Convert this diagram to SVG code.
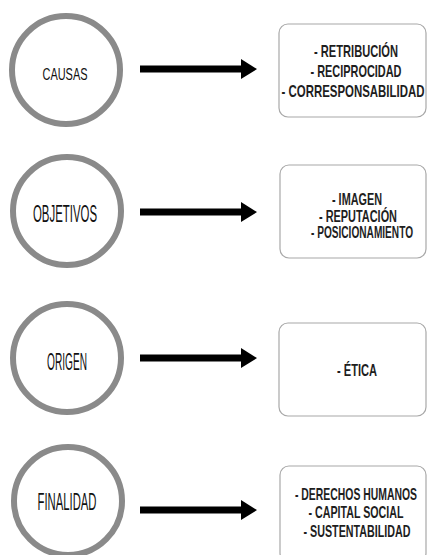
<svg xmlns="http://www.w3.org/2000/svg" width="428" height="555" viewBox="0 0 428 555">
<style>
.circ{fill:#fff;stroke:#8a8a8a;stroke-width:6}
.box{fill:#fff;stroke:#a8a8a8;stroke-width:1.2}
.lbl{font-family:"Liberation Sans",Arial,sans-serif;fill:#111;text-anchor:middle}
.item{font-family:"Liberation Sans",Arial,sans-serif;font-weight:bold;fill:#1e1e1e;text-anchor:middle}
.conn{stroke:#000;stroke-width:7;fill:none}
</style>
<defs>
<marker id="ah" markerUnits="userSpaceOnUse" markerWidth="16" markerHeight="20" refX="0" refY="10" orient="auto" overflow="visible">
<path d="M0,0 L16,10 L0,20 Z" fill="#000"/>
</marker>
</defs>
<rect width="428" height="555" fill="#fff"/>
<g id="connectors">
<line class="conn" x1="140" y1="69" x2="241" y2="69" marker-end="url(#ah)"/>
<line class="conn" x1="140" y1="212" x2="241" y2="212" marker-end="url(#ah)"/>
<line class="conn" x1="140" y1="358" x2="241" y2="358" marker-end="url(#ah)"/>
<line class="conn" x1="140" y1="510" x2="241" y2="510" marker-end="url(#ah)"/>
</g>
<g id="causas">
<circle class="circ" cx="66" cy="70" r="54"/>
<text class="lbl" x="65" y="80" font-size="17" textLength="45" lengthAdjust="spacingAndGlyphs">CAUSAS</text>
</g>
<g id="objetivos">
<circle class="circ" cx="67" cy="211" r="54"/>
<text class="lbl" x="65" y="222" font-size="23" textLength="64" lengthAdjust="spacingAndGlyphs">OBJETIVOS</text>
</g>
<g id="origen">
<circle class="circ" cx="67" cy="358" r="54"/>
<text class="lbl" x="67" y="370" font-size="23" textLength="40" lengthAdjust="spacingAndGlyphs">ORIGEN</text>
</g>
<g id="finalidad">
<circle class="circ" cx="68" cy="501" r="54"/>
<text class="lbl" x="67" y="510" font-size="23" textLength="59" lengthAdjust="spacingAndGlyphs">FINALIDAD</text>
</g>
<g id="box-causas">
<rect class="box" x="279" y="24" width="147" height="93" rx="9"/>
<text class="item" x="356" y="57" font-size="17" textLength="84" lengthAdjust="spacingAndGlyphs">- RETRIBUCIÓN</text>
<text class="item" x="356" y="77" font-size="17" textLength="91" lengthAdjust="spacingAndGlyphs">- RECIPROCIDAD</text>
<text class="item" x="353" y="97" font-size="17" textLength="143" lengthAdjust="spacingAndGlyphs">- CORRESPONSABILIDAD</text>
</g>
<g id="box-objetivos">
<rect class="box" x="280" y="165" width="146" height="93" rx="9"/>
<text class="item" x="357" y="205" font-size="16" textLength="50" lengthAdjust="spacingAndGlyphs">- IMAGEN</text>
<text class="item" x="358" y="222" font-size="16" textLength="78" lengthAdjust="spacingAndGlyphs">- REPUTACIÓN</text>
<text class="item" x="362" y="238" font-size="16" textLength="102" lengthAdjust="spacingAndGlyphs">- POSICIONAMIENTO</text>
</g>
<g id="box-origen">
<rect class="box" x="279" y="323" width="147" height="93" rx="9"/>
<text class="item" x="357" y="376" font-size="16" textLength="40" lengthAdjust="spacingAndGlyphs">- ÉTICA</text>
</g>
<g id="box-finalidad">
<rect class="box" x="280" y="466" width="146" height="96" rx="9"/>
<text class="item" x="356" y="500" font-size="17" textLength="122" lengthAdjust="spacingAndGlyphs">- DERECHOS HUMANOS</text>
<text class="item" x="356" y="518" font-size="17" textLength="95" lengthAdjust="spacingAndGlyphs">- CAPITAL SOCIAL</text>
<text class="item" x="357" y="537" font-size="17" textLength="107" lengthAdjust="spacingAndGlyphs">- SUSTENTABILIDAD</text>
</g>
</svg>
